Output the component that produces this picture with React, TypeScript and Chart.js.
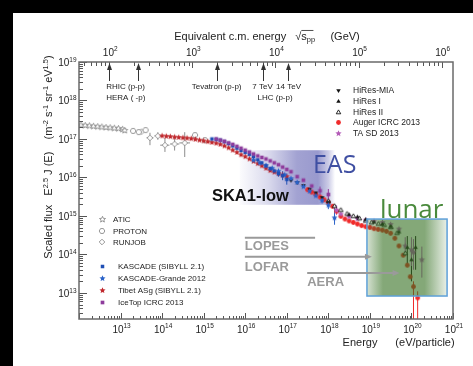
import React, { useEffect, useRef } from 'react';
import { Chart, registerables } from 'chart.js';

Chart.register(...registerables);

// ---------------- data (energy in eV, scaled flux E^2.5 J(E)) ----------------
const aticEnergy = [1.12e12, 1.41e12, 1.78e12, 2.24e12, 2.82e12, 3.55e12, 4.47e12, 5.62e12, 7.08e12, 8.91e12, 1.12e13, 1.26e13];
const aticFlux = [2.29e17, 2.24e17, 2.19e17, 2.14e17, 2.09e17, 2.04e17, 1.99e17, 1.95e17, 1.9e17, 1.86e17, 1.78e17, 1.66e17];

const protonEnergy = [2.0e13, 2.75e13, 4.0e13, 6.2e14, 1.07e15];
const protonFlux = [1.62e17, 1.51e17, 1.7e17, 1.26e17, 9.3e16];

const runjobEnergy = [3.2e13, 5.1e13, 7.9e13, 1.17e14, 2.0e14, 3.5e14];
const runjobFlux = [1.55e17, 1.07e17, 1.2e17, 6.9e16, 7.4e16, 7.9e16];
const runjobErrEnergy = [5.1e13, 7.9e13, 1.17e14, 2.0e14, 3.5e14];
const runjobErrLo = [6.9e16, 9.5e16, 4.6e16, 5.0e16, 3.4e16];
const runjobErrHi = [1.45e17, 1.5e17, 1.07e17, 1.1e17, 1.5e17];
const runjobErrELo = [4.2e13, 6.5e13, 9.0e13, 1.55e14, 2.6e14];
const runjobErrEHi = [6.2e13, 9.6e13, 1.5e14, 2.6e14, 4.7e14];

const tibetEnergy = [1e14, 1.26e14, 1.58e14, 2e14, 2.51e14, 3.16e14, 3.98e14, 5.01e14, 6.31e14, 7.94e14, 1e15, 1.26e15, 1.58e15, 2e15, 2.51e15, 3.16e15, 3.98e15, 5.01e15, 6.31e15, 7.94e15, 1e16, 1.26e16, 1.58e16, 2e16, 2.51e16, 3.16e16, 3.98e16, 5.01e16, 6.31e16, 7.94e16, 1e17];
const tibetFlux = [1.2e17, 1.175e17, 1.15e17, 1.12e17, 1.1e17, 1.07e17, 1.05e17, 1.02e17, 9.77e16, 9.33e16, 8.91e16, 8.51e16, 8.13e16, 7.76e16, 7.24e16, 6.61e16, 5.89e16, 5.13e16, 4.47e16, 3.89e16, 3.47e16, 3.02e16, 2.63e16, 2.29e16, 2.0e16, 1.74e16, 1.51e16, 1.38e16, 1.26e16, 1.15e16, 1.05e16];

const kascadeEnergy = [1.58e15, 2e15, 2.51e15, 3.16e15, 3.98e15, 5.01e15, 6.31e15, 7.94e15, 1e16, 1.26e16, 1.58e16, 2e16, 2.51e16, 3.16e16, 3.98e16, 5.01e16, 6.31e16, 7.94e16, 1e17];
const kascadeFlux = [1.0e17, 9.77e16, 9.33e16, 8.51e16, 7.59e16, 6.61e16, 5.75e16, 5.01e16, 4.47e16, 3.98e16, 3.47e16, 2.88e16, 2.4e16, 2.0e16, 1.7e16, 1.48e16, 1.26e16, 1.12e16, 8.91e15];
const kascadeErrEnergy = [6.31e16, 7.94e16, 1e17];
const kascadeErrLo = [1.05e16, 8.5e15, 6.5e15];
const kascadeErrHi = [1.5e16, 1.45e16, 1.2e16];

const grandeEnergy = [1.58e16, 2.24e16, 3.16e16, 4.47e16, 6.31e16, 8.91e16, 1.26e17, 1.78e17, 2.51e17, 3.55e17, 5.01e17, 7.08e17, 1e18, 1.41e18];
const grandeFlux = [2.82e16, 2.4e16, 2.04e16, 1.74e16, 1.45e16, 1.17e16, 9.33e15, 7.41e15, 5.75e15, 4.37e15, 3.31e15, 2.51e15, 1.91e15, 8.91e14];
const grandeErrEnergy = [7.08e17, 1e18, 1.41e18];
const grandeErrLo = [2.1e15, 1.5e15, 5.9e14];
const grandeErrHi = [3.0e15, 2.4e15, 1.62e15];

const iceTopEnergy = [2e15, 2.51e15, 3.16e15, 3.98e15, 5.01e15, 6.31e15, 7.94e15, 1e16, 1.26e16, 1.58e16, 2e16, 2.51e16, 3.16e16, 3.98e16, 5.01e16, 6.31e16, 7.94e16, 1e17, 1.26e17, 1.78e17, 2.51e17, 3.98e17, 6.31e17, 1e18];
const iceTopFlux = [1.0e17, 9.33e16, 8.71e16, 7.94e16, 7.24e16, 6.46e16, 5.75e16, 5.13e16, 4.57e16, 4.07e16, 3.63e16, 3.31e16, 3.02e16, 2.69e16, 2.4e16, 2.14e16, 1.86e16, 1.62e16, 1.41e16, 1.05e16, 8.5e15, 6.0e15, 4.5e15, 3.6e15];
const iceTopErrEnergy = [6.31e17, 1e18];
const iceTopErrLo = [3.5e15, 2.6e15];
const iceTopErrHi = [5.8e15, 5.0e15];

const hiresMiaEnergy = [1.26e17, 1.78e17, 2.51e17, 3.55e17, 5.01e17, 7.08e17, 1e18];
const hiresMiaFlux = [8.51e15, 7.41e15, 6.17e15, 5.01e15, 3.98e15, 3.02e15, 2.29e15];

const hires1Energy = [3.16e18, 5.01e18, 7.94e18, 1.26e19, 2e19, 3.16e19, 5.01e19, 7.94e19, 1e20, 1.26e20];
const hires1Flux = [1.07e15, 9.33e14, 7.94e14, 6.92e14, 6.03e14, 5.25e14, 3.8e14, 1.5e14, 7.2e13, 1.5e14];
const hires1ErrEnergy = [7.94e19, 1e20, 1.26e20];
const hires1ErrLo = [5e13, 2e13, 4e13];
const hires1ErrHi = [3e14, 1.6e14, 3e14];

const hires2Energy = [1e18, 1.41e18, 2e18, 2.82e18, 4e18, 5.6e18, 7.9e18, 1.1e19, 1.6e19, 2.2e19, 3.2e19, 4.5e19, 7.1e19];
const hires2Flux = [2.4e15, 1.78e15, 1.41e15, 1.12e15, 9.77e14, 8.51e14, 7.41e14, 6.61e14, 6.17e14, 5.75e14, 5.01e14, 3.55e14, 1.05e14];

const augerEnergy = [3.16e17, 3.98e17, 5.01e17, 6.31e17, 7.94e17, 1e18, 1.26e18, 1.58e18, 2e18, 2.51e18, 3.16e18, 3.98e18, 5.01e18, 6.31e18, 7.94e18, 1e19, 1.26e19, 1.58e19, 2e19, 2.51e19, 3.16e19, 3.98e19, 5.01e19, 6.31e19, 7.94e19, 9.33e19, 1.12e20, 1.41e20];
const augerFlux = [4.79e15, 4.17e15, 3.63e15, 3.09e15, 2.63e15, 2.24e15, 1.78e15, 1.32e15, 9.77e14, 8.32e14, 7.41e14, 6.76e14, 6.17e14, 5.62e14, 5.25e14, 5.01e14, 4.68e14, 4.47e14, 4.27e14, 3.98e14, 3.55e14, 2.63e14, 1.66e14, 9.55e13, 5.25e13, 2.63e13, 1.45e13, 7.41e12];
const augerErrEnergy = [1.12e20, 1.41e20];
const augerErrLo = [2.1e12, 2.1e12];
const augerErrHi = [2.0e13, 1.1e13];

const taEnergy = [1.58e18, 2e18, 3.16e18, 5.01e18, 7.94e18, 1.26e19, 2e19, 3.16e19, 5.01e19, 7.08e19, 1e20, 1.12e20, 1.78e20];
const taFlux = [1.41e15, 1.12e15, 9.55e14, 8.51e14, 7.76e14, 7.24e14, 6.76e14, 6.03e14, 4.57e14, 1.66e14, 1.32e14, 1.15e14, 7.24e13];
const taErrEnergy = [1.58e18, 7.08e19, 1e20, 1.12e20, 1.78e20];
const taErrLo = [1.05e15, 9e13, 5e13, 4e13, 2.5e13];
const taErrHi = [1.9e15, 2.8e14, 2.8e14, 2.5e14, 1.6e14];

// axes
const energyTicks = [1e13, 1e14, 1e15, 1e16, 1e17, 1e18, 1e19, 1e20, 1e21];
const fluxTicks = [1e13, 1e14, 1e15, 1e16, 1e17, 1e18, 1e19];
const cmTicks = [1e2, 1e3, 1e4, 1e5, 1e6];
const E_MIN = 1e12, E_MAX = 1e21, F_MIN = 2.1e12, F_MAX = 1e19;
const CM_FACTOR = 1.876e-9; // sqrt(s)[GeV]^2 = 2 m_p E

// accelerator arrows (sqrt(s) in GeV)
const accelSqrtS = [100, 225, 1960, 7000, 14000];

// shaded regions [Emin, Emax, Fmin, Fmax]
const easRegion = [7.4e15, 1.45e18, 1.95e15, 5.1e16];
const lunarRegion = [8.5e18, 7.2e20, 8.3e12, 8.3e14];

// ---------------- styling ----------------
const W = 473, H = 366;
const FONT = "'Liberation Sans', Arial, sans-serif";
const TXT = '#222';
const GRAY = '#8c8c8c';
const TIBET = '#c0282d';
const KASC = '#1f4fb5';
const GRANDE = '#2b63c9';
const ICETOP = '#8e3c9c';
const AUGER = '#f02a2a';
const TA = '#b45cb8';
const BLK = '#111';

type Kind = 'star' | 'hex' | 'diamond' | 'square' | 'circle' | 'tri' | 'triDown';

function makeMarker(kind: Kind, fill: string | null, stroke: string | null, r: number, lw = 0.9) {
  const size = Math.ceil(2 * r + 2 * lw + 2);
  const c = document.createElement('canvas');
  c.width = size;
  c.height = size;
  const g = c.getContext('2d')!;
  const cx = size / 2, cy = size / 2;
  g.beginPath();
  const poly = (n: number, rot: number, rr: number) => {
    for (let i = 0; i < n; i++) {
      const a = rot + (i * 2 * Math.PI) / n;
      const px = cx + rr * Math.cos(a), py = cy + rr * Math.sin(a);
      if (i) g.lineTo(px, py); else g.moveTo(px, py);
    }
    g.closePath();
  };
  if (kind === 'star') {
    for (let i = 0; i < 10; i++) {
      const a = -Math.PI / 2 + (i * Math.PI) / 5;
      const rr = i % 2 ? r * 0.45 : r;
      const px = cx + rr * Math.cos(a), py = cy + rr * Math.sin(a);
      if (i) g.lineTo(px, py); else g.moveTo(px, py);
    }
    g.closePath();
  } else if (kind === 'hex') poly(6, 0, r);
  else if (kind === 'diamond') poly(4, -Math.PI / 2, r);
  else if (kind === 'square') g.rect(cx - r * 0.8, cy - r * 0.8, r * 1.6, r * 1.6);
  else if (kind === 'circle') g.arc(cx, cy, r, 0, Math.PI * 2);
  else if (kind === 'tri') poly(3, -Math.PI / 2, r);
  else if (kind === 'triDown') poly(3, Math.PI / 2, r);
  if (fill) { g.fillStyle = fill; g.fill(); }
  if (stroke) { g.strokeStyle = stroke; g.lineWidth = lw; g.stroke(); }
  return c;
}

type Seg = { t: string; sup?: boolean; sub?: boolean; over?: boolean };
function drawRich(ctx: CanvasRenderingContext2D, segs: Seg[], x: number, y: number, size: number, align: 'left' | 'center' | 'right', supScale = 0.68, supRise = 0.4) {
  ctx.textAlign = 'left';
  ctx.textBaseline = 'alphabetic';
  const fs = (s: Seg) => (s.sup || s.sub ? size * supScale : size);
  let w = 0;
  segs.forEach((s) => { ctx.font = `${fs(s)}px ${FONT}`; w += ctx.measureText(s.t).width; });
  let cx = align === 'center' ? x - w / 2 : align === 'right' ? x - w : x;
  segs.forEach((s) => {
    ctx.font = `${fs(s)}px ${FONT}`;
    const dy = s.sup ? -size * supRise : s.sub ? size * 0.25 : 0;
    ctx.fillText(s.t, cx, y + dy);
    const sw = ctx.measureText(s.t).width;
    if (s.over) {
      ctx.beginPath();
      ctx.lineWidth = 0.8;
      ctx.moveTo(cx, y - size * 0.82);
      ctx.lineTo(cx + sw + size * 0.6, y - size * 0.82);
      ctx.stroke();
    }
    cx += sw;
  });
}

function powSegs(v: number): Seg[] {
  return [{ t: '10' }, { t: String(Math.round(Math.log10(v))), sup: true }];
}

function logMarks(min: number, max: number) {
  const out: { v: number; major: boolean }[] = [];
  for (let d = Math.floor(Math.log10(min)); d <= Math.ceil(Math.log10(max)); d++) {
    for (let m = 1; m <= 9; m++) {
      const v = m * Math.pow(10, d);
      if (v >= min * 0.999 && v <= max * 1.001) out.push({ v, major: m === 1 });
    }
  }
  return out;
}

function hArrow(ctx: CanvasRenderingContext2D, x0: number, x1: number, y: number, head: boolean) {
  ctx.beginPath();
  ctx.moveTo(x0, y);
  ctx.lineTo(head ? x1 - 4 : x1, y);
  ctx.stroke();
  if (head) {
    ctx.beginPath();
    ctx.moveTo(x1, y);
    ctx.lineTo(x1 - 7, y - 3);
    ctx.lineTo(x1 - 7, y + 3);
    ctx.closePath();
    ctx.fill();
  }
}

export default function App() {
  const ref = useRef<HTMLCanvasElement>(null);

  useEffect(() => {
    const canvas = ref.current!;
    const series: any[] = [
      { label: 'IceTop ICRC 2013', e: iceTopEnergy, f: iceTopFlux, ee: iceTopErrEnergy, lo: iceTopErrLo, hi: iceTopErrHi, kind: 'square', fill: ICETOP, stroke: null, r: 2.3, col: ICETOP },
      { label: 'KASCADE (SIBYLL 2.1)', e: kascadeEnergy, f: kascadeFlux, ee: kascadeErrEnergy, lo: kascadeErrLo, hi: kascadeErrHi, kind: 'square', fill: KASC, stroke: null, r: 2.2, col: KASC },
      { label: 'KASCADE-Grande 2012', e: grandeEnergy, f: grandeFlux, ee: grandeErrEnergy, lo: grandeErrLo, hi: grandeErrHi, kind: 'star', fill: GRANDE, stroke: null, r: 3.2, col: GRANDE },
      { label: 'HiRes-MIA', e: hiresMiaEnergy, f: hiresMiaFlux, kind: 'triDown', fill: BLK, stroke: null, r: 2.6, col: BLK },
      { label: 'HiRes I', e: hires1Energy, f: hires1Flux, ee: hires1ErrEnergy, lo: hires1ErrLo, hi: hires1ErrHi, kind: 'tri', fill: BLK, stroke: null, r: 2.6, col: BLK },
      { label: 'HiRes II', e: hires2Energy, f: hires2Flux, kind: 'tri', fill: '#fff', stroke: BLK, r: 2.6, col: BLK },
      { label: 'TA SD 2013', e: taEnergy, f: taFlux, ee: taErrEnergy, lo: taErrLo, hi: taErrHi, kind: 'star', fill: TA, stroke: null, r: 3.3, col: TA },
      { label: 'Auger ICRC 2013', e: augerEnergy, f: augerFlux, ee: augerErrEnergy, lo: augerErrLo, hi: augerErrHi, kind: 'circle', fill: AUGER, stroke: null, r: 2.4, col: AUGER },
      { label: 'Tibet ASg (SIBYLL 2.1)', e: tibetEnergy, f: tibetFlux, kind: 'star', fill: TIBET, stroke: null, r: 3.2, col: TIBET },
      { label: 'ATIC', e: aticEnergy, f: aticFlux, kind: 'star', fill: '#fff', stroke: GRAY, r: 3.2, col: GRAY },
      { label: 'PROTON', e: protonEnergy, f: protonFlux, kind: 'hex', fill: '#fff', stroke: GRAY, r: 2.8, col: GRAY },
      { label: 'RUNJOB', e: runjobEnergy, f: runjobFlux, ee: runjobErrEnergy, lo: runjobErrLo, hi: runjobErrHi, xlo: runjobErrELo, xhi: runjobErrEHi, kind: 'diamond', fill: '#fff', stroke: GRAY, r: 2.8, col: GRAY },
    ];
    const markers: Record<string, HTMLCanvasElement> = {};
    series.forEach((s) => { markers[s.label] = makeMarker(s.kind, s.fill, s.stroke, s.r); });

    const datasets = series.map((s) => ({
      label: s.label,
      data: s.e.map((x: number, i: number) => ({ x, y: s.f[i] })),
      pointStyle: markers[s.label],
      pointRadius: s.r,
      showLine: false,
      xAxisID: 'x',
      yAxisID: 'y',
      errE: s.ee,
      errLo: s.lo,
      errHi: s.hi,
      errXLo: s.xlo,
      errXHi: s.xhi,
      errColor: s.col,
    }));

    const legendLeft1 = [
      { label: 'ATIC', y: 219 },
      { label: 'PROTON', y: 231 },
      { label: 'RUNJOB', y: 242 },
    ];
    const legendLeft2 = [
      { label: 'KASCADE (SIBYLL 2.1)', y: 266 },
      { label: 'KASCADE-Grande 2012', y: 278 },
      { label: 'Tibet ASg (SIBYLL 2.1)', y: 290 },
      { label: 'IceTop ICRC 2013', y: 302 },
    ];
    const legendRight = [
      { label: 'HiRes-MIA', y: 90 },
      { label: 'HiRes I', y: 101 },
      { label: 'HiRes II', y: 112 },
      { label: 'Auger ICRC 2013', y: 122 },
      { label: 'TA SD 2013', y: 133 },
    ];

    const plugin: any = {
      id: 'crPlot',
      beforeDraw(chart: any) {
        const ctx = chart.ctx;
        ctx.save();
        ctx.fillStyle = '#000';
        ctx.fillRect(0, 0, W, H);
        ctx.fillStyle = '#fff';
        ctx.fillRect(13, 13, W - 13, H - 13);
        ctx.restore();
      },
      beforeDatasetsDraw(chart: any) {
        const ctx = chart.ctx, xs = chart.scales.x, ys = chart.scales.y;
        ctx.save();
        // EAS band
        const x0 = xs.getPixelForValue(easRegion[0]), x1 = xs.getPixelForValue(easRegion[1]);
        const yt = ys.getPixelForValue(easRegion[3]), yb = ys.getPixelForValue(easRegion[2]);
        const g = ctx.createLinearGradient(x0, 0, x1, 0);
        g.addColorStop(0, 'rgba(70,70,165,0.02)');
        g.addColorStop(0.3, 'rgba(70,70,165,0.2)');
        g.addColorStop(0.6, 'rgba(70,70,165,0.5)');
        g.addColorStop(0.82, 'rgba(70,70,165,0.55)');
        g.addColorStop(0.93, 'rgba(70,70,165,0.28)');
        g.addColorStop(1, 'rgba(70,70,165,0.0)');
        ctx.fillStyle = g;
        ctx.fillRect(x0, yt, x1 - x0, yb - yt);
        // error bars
        ctx.lineWidth = 1;
        chart.data.datasets.forEach((ds: any) => {
          if (!ds.errE) return;
          ctx.strokeStyle = ds.errColor;
          ds.errE.forEach((e: number, i: number) => {
            const px = xs.getPixelForValue(e);
            ctx.beginPath();
            ctx.moveTo(px, ys.getPixelForValue(ds.errLo[i]));
            ctx.lineTo(px, ys.getPixelForValue(ds.errHi[i]));
            if (ds.errXLo) {
              const idx = ds.data.findIndex((p: any) => p.x === e);
              const yy = ys.getPixelForValue(ds.data[idx].y);
              ctx.moveTo(xs.getPixelForValue(ds.errXLo[i]), yy);
              ctx.lineTo(xs.getPixelForValue(ds.errXHi[i]), yy);
            }
            ctx.stroke();
          });
        });
        ctx.restore();
      },
      afterDatasetsDraw(chart: any) {
        const ctx = chart.ctx, xs = chart.scales.x, ys = chart.scales.y;
        const px = (e: number) => xs.getPixelForValue(e);
        const py = (f: number) => ys.getPixelForValue(f);
        ctx.save();
        // lunar box
        const lx0 = px(lunarRegion[0]), lx1 = px(lunarRegion[1]);
        const lyt = py(lunarRegion[3]), lyb = py(lunarRegion[2]);
        const g = ctx.createLinearGradient(lx0, 0, lx1, 0);
        g.addColorStop(0, 'rgba(50,110,30,0.2)');
        g.addColorStop(0.2, 'rgba(50,110,30,0.6)');
        g.addColorStop(0.72, 'rgba(50,110,30,0.6)');
        g.addColorStop(1, 'rgba(50,110,30,0.1)');
        ctx.fillStyle = g;
        ctx.fillRect(lx0, lyt, lx1 - lx0, lyb - lyt);
        ctx.strokeStyle = '#5ea0d8';
        ctx.lineWidth = 1.5;
        ctx.strokeRect(lx0, lyt, lx1 - lx0, lyb - lyt);

        // region texts
        ctx.textAlign = 'left';
        ctx.textBaseline = 'alphabetic';
        ctx.fillStyle = '#3f4fa2';
        ctx.font = `25px 'Open Sans', ${FONT}`;
        ctx.fillText('EAS', px(4.27e17), py(1.32e16));
        ctx.fillStyle = '#4a8a3c';
        ctx.font = `26px 'Open Sans', ${FONT}`;
        ctx.fillText('lunar', px(1.74e19), py(8.9e14));
        ctx.fillStyle = '#111';
        ctx.font = `bold 16.5px ${FONT}`;
        ctx.fillText('SKA1-low', px(1.58e15), py(2.4e15));

        // radio experiments
        ctx.strokeStyle = '#9a9a9a';
        ctx.fillStyle = '#9a9a9a';
        ctx.lineWidth = 2;
        hArrow(ctx, px(9.8e15), px(4.8e17), py(2.7e14), false);
        hArrow(ctx, px(9.8e15), px(1.12e19), py(8.7e13), true);
        hArrow(ctx, px(3.1e17), px(5.2e19), py(3.3e13), true);
        ctx.font = `bold 13px ${FONT}`;
        ctx.fillText('LOPES', px(9.8e15), py(1.32e14));
        ctx.fillText('LOFAR', px(9.8e15), py(3.7e13));
        ctx.fillText('AERA', px(3.1e17), py(1.5e13));
        ctx.restore();
      },
      afterDraw(chart: any) {
        const ctx = chart.ctx, xs = chart.scales.x, ys = chart.scales.y, x2 = chart.scales.x2;
        const a = chart.chartArea;
        ctx.save();
        // ticks (inside)
        ctx.strokeStyle = '#555';
        ctx.lineWidth = 1;
        ctx.beginPath();
        logMarks(E_MIN, E_MAX).forEach((m) => {
          const x = Math.round(xs.getPixelForValue(m.v)) + 0.5;
          ctx.moveTo(x, a.bottom);
          ctx.lineTo(x, a.bottom - (m.major ? 6 : 3));
        });
        logMarks(F_MIN, F_MAX).forEach((m) => {
          const y = Math.round(ys.getPixelForValue(m.v)) + 0.5;
          ctx.moveTo(a.left, y);
          ctx.lineTo(a.left + (m.major ? 8 : 4), y);
        });
        logMarks(x2.min, x2.max).forEach((m) => {
          const x = Math.round(x2.getPixelForValue(m.v)) + 0.5;
          ctx.moveTo(x, a.top);
          ctx.lineTo(x, a.top + (m.major ? 6 : 4));
        });
        ctx.stroke();
        // frame
        ctx.strokeStyle = '#6a6a6a';
        ctx.lineWidth = 1.5;
        ctx.strokeRect(a.left, a.top, a.right - a.left, a.bottom - a.top);

        // tick labels (power-of-ten with superscript exponents)
        ctx.fillStyle = TXT;
        energyTicks.forEach((v) => drawRich(ctx, powSegs(v), xs.getPixelForValue(v) + 1, a.bottom + 13.5, 10, 'center', 0.65, 0.42));
        cmTicks.forEach((v) => drawRich(ctx, powSegs(v), x2.getPixelForValue(v) + 1, a.top - 6.5, 10, 'center', 0.65, 0.42));
        fluxTicks.forEach((v) => drawRich(ctx, powSegs(v), a.left - 2.5, ys.getPixelForValue(v) + 4, 10, 'right', 0.65, 0.42));

        // accelerator arrows
        ctx.strokeStyle = '#333';
        ctx.fillStyle = '#333';
        ctx.lineWidth = 1;
        accelSqrtS.forEach((s) => {
          const x = Math.round(x2.getPixelForValue(s)) + 0.5;
          ctx.beginPath();
          ctx.moveTo(x, a.top + 6);
          ctx.lineTo(x, a.top + 19);
          ctx.stroke();
          ctx.beginPath();
          ctx.moveTo(x, a.top + 1);
          ctx.lineTo(x - 2.5, a.top + 8);
          ctx.lineTo(x + 2.5, a.top + 8);
          ctx.closePath();
          ctx.fill();
        });
        ctx.fillStyle = TXT;
        ctx.font = `8px ${FONT}`;
        ctx.textBaseline = 'middle';
        ctx.textAlign = 'left';
        const xr = x2.getPixelForValue(accelSqrtS[0]);
        ctx.fillText('RHIC (p-p)', xr - 3, 87);
        ctx.fillText('HERA ( -p)', xr - 3, 97.5);
        ctx.textAlign = 'center';
        ctx.fillText('Tevatron (p-p)', x2.getPixelForValue(accelSqrtS[2]), 87);
        const x7 = x2.getPixelForValue(accelSqrtS[3]), x14 = x2.getPixelForValue(accelSqrtS[4]);
        ctx.fillText('7 TeV', x7, 87);
        ctx.fillText('14 TeV', x14 + 1, 87);
        ctx.fillText('LHC (p-p)', (x7 + x14) / 2, 97.5);

        // legends
        const legend = (items: any[], mx: number, tx: number, size: number) => {
          ctx.font = `${size}px ${FONT}`;
          ctx.textAlign = 'left';
          ctx.textBaseline = 'middle';
          ctx.fillStyle = TXT;
          items.forEach((it) => {
            const m = markers[it.label];
            ctx.drawImage(m, Math.round(mx - m.width / 2), Math.round(it.y - m.height / 2));
            ctx.fillText(it.label, tx, it.y + 0.5);
          });
        };
        legend(legendLeft1, 102, 113, 8);
        legend(legendLeft2, 102, 118, 8);
        legend(legendRight, 338, 353, 8.5);

        // titles
        ctx.fillStyle = TXT;
        ctx.strokeStyle = TXT;
        drawRich(ctx, [
          { t: 'Equivalent c.m. energy   ' },
          { t: '√' },
          { t: 's', over: true },
          { t: 'pp', sub: true },
          { t: '     (GeV)' },
        ], 267, 39.5, 11, 'center');

        ctx.textAlign = 'center';
        ctx.textBaseline = 'alphabetic';
        ctx.font = `11px ${FONT}`;
        ctx.fillText('Energy', 360, 346);
        ctx.fillText('(eV/particle)', 425, 346);

        ctx.save();
        ctx.translate(52, 157);
        ctx.rotate(-Math.PI / 2);
        drawRich(ctx, [
          { t: 'Scaled flux   E' },
          { t: '2.5', sup: true },
          { t: ' J (E)    (m' },
          { t: '-2', sup: true },
          { t: ' s' },
          { t: '-1', sup: true },
          { t: ' sr' },
          { t: '-1', sup: true },
          { t: ' eV' },
          { t: '1.5', sup: true },
          { t: ')' },
        ], 0, 0, 11, 'center');
        ctx.restore();
        ctx.restore();
      },
    };

    const chart = new Chart(canvas, {
      type: 'scatter',
      data: { datasets: datasets as any },
      options: {
        responsive: false,
        animation: false,
        devicePixelRatio: 1,
        layout: { padding: { left: 0, right: 20, top: 0, bottom: 0 } },
        plugins: { legend: { display: false }, tooltip: { enabled: false } },
        scales: {
          x: {
            type: 'logarithmic',
            position: 'bottom',
            min: E_MIN,
            max: E_MAX,
            grid: { display: false },
            border: { display: false },
            afterBuildTicks: (s: any) => { s.ticks = energyTicks.map((v) => ({ value: v })); },
            afterFit: (s: any) => { s.height = 47; },
            ticks: { display: false },
          },
          x2: {
            type: 'logarithmic',
            axis: 'x',
            position: 'top',
            min: Math.sqrt(CM_FACTOR * E_MIN),
            max: Math.sqrt(CM_FACTOR * E_MAX),
            grid: { display: false },
            border: { display: false },
            afterBuildTicks: (s: any) => { s.ticks = cmTicks.map((v) => ({ value: v })); },
            afterFit: (s: any) => { s.height = 62; },
            ticks: { display: false },
          },
          y: {
            type: 'logarithmic',
            position: 'left',
            min: F_MIN,
            max: F_MAX,
            grid: { display: false },
            border: { display: false },
            afterBuildTicks: (s: any) => { s.ticks = fluxTicks.map((v) => ({ value: v })); },
            afterFit: (s: any) => { s.width = 79; },
            ticks: { display: false },
          },
        } as any,
      },
      plugins: [plugin],
    });
    return () => chart.destroy();
  }, []);

  return (
    <div style={{ position: 'absolute', left: 0, top: 0, width: W, height: H }}>
      <canvas ref={ref} width={W} height={H} style={{ display: 'block', width: W, height: H }} />
    </div>
  );
}
